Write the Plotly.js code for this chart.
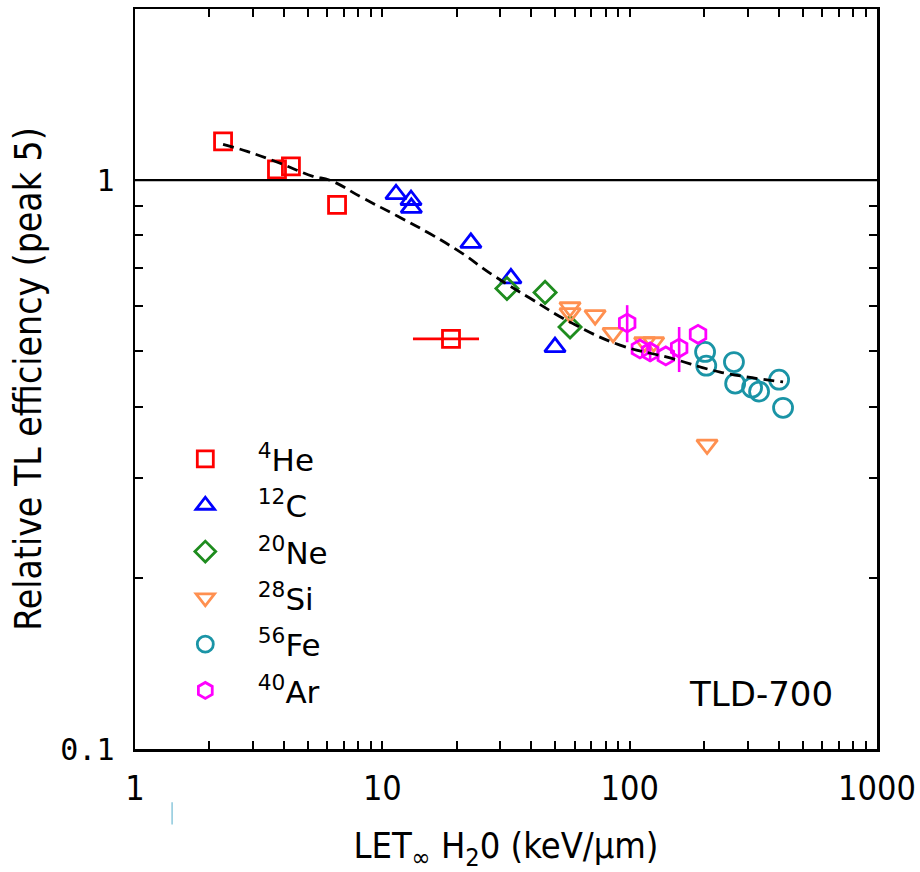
<!DOCTYPE html>
<html>
<head>
<meta charset="utf-8">
<script src="https://cdn.plot.ly/plotly-3.0.1.min.js"></script>
<style>html,body{margin:0;padding:0;background:#fff;}#chart{width:920px;height:872px;}</style>
</head>
<body>
<div id="chart"></div>
<script>
// ---- data ----
const heX = [2.27, 3.75, 4.27, 6.56, 18.95];
const heY = [1.17, 1.045, 1.058, 0.905, 0.526];
const heErrXPlus = [0, 0, 0, 0, 5.65];
const heErrXMinus = [0, 0, 0, 0, 5.65];

const cX = [11.36, 13.06, 13.1, 22.8, 33.1, 49.9];
const cY = [0.945, 0.923, 0.894, 0.776, 0.672, 0.509];

const neX = [31.9, 45.5, 57.4];
const neY = [0.645, 0.635, 0.552];

const siX = [57.4, 57.4, 72.5, 85.7, 115, 125, 205.6];
const siY = [0.598, 0.584, 0.579, 0.539, 0.519, 0.519, 0.343];

const feX = [201.8, 204, 264, 267, 312.6, 333.6, 402, 417];
const feY = [0.499, 0.472, 0.479, 0.439, 0.432, 0.425, 0.446, 0.398];

const arX = [97.7, 110, 121, 140, 158.5, 189];
const arY = [0.561, 0.505, 0.499, 0.491, 0.507, 0.536];
const arErrPlus = [0.042, 0, 0.02, 0, 0.045, 0];
const arErrMinus = [0.042, 0, 0.02, 0, 0.047, 0];

const fitX = [2.27, 2.84, 3.86, 5.24, 6.14, 8.36, 11.5, 15.6, 21.2, 27.3, 39.6, 57.4, 91.4, 145.7, 232, 417];
const fitY = [1.156, 1.124, 1.071, 1.016, 1.0, 0.930, 0.865, 0.805, 0.742, 0.686, 0.620, 0.563, 0.513, 0.487, 0.460, 0.442];

const legendNames = ['<sup>4</sup>He', '<sup>12</sup>C', '<sup>20</sup>Ne', '<sup>28</sup>Si', '<sup>56</sup>Fe', '<sup>40</sup>Ar'];

const xTickVals = [1,2,3,4,5,6,7,8,9,10,20,30,40,50,60,70,80,90,100,200,300,400,500,600,700,800,900,1000];
const xTickText = ['1','','','','','','','','','10','','','','','','','','','100','','','','','','','','','1000'];
const yTickVals = [0.1,0.2,0.3,0.4,0.5,0.6,0.7,0.8,0.9,1,2];
const yTickText = ['0.1','','','','','','','','','1',''];

const annotationText = 'TLD-700';
const xTitle = 'LET<sub>\u221E</sub> H<sub>2</sub>0 (keV/\u00B5m)';
const yTitle = 'Relative TL efficiency (peak 5)';

// ---- traces ----
const mk = (sym, col, size) => ({symbol: sym, size: size, color: col, line: {color: col, width: 2.8}});

const traces = [
  {x: heX, y: heY, name: legendNames[0], legendgroup: 'a', mode: 'markers', type: 'scatter',
   marker: mk('square-open', '#FF0000', 17),
   error_x: {type: 'data', symmetric: false, array: heErrXPlus, arrayminus: heErrXMinus, width: 0, thickness: 2.6, color: '#FF0000'}},
  {x: cX, y: cY, name: legendNames[1], legendgroup: 'b', mode: 'markers', type: 'scatter',
   marker: mk('triangle-up-open', '#0000FF', 18)},
  {x: neX, y: neY, name: legendNames[2], legendgroup: 'c', mode: 'markers', type: 'scatter',
   marker: mk('diamond-open', '#1E8C1E', 17)},
  {x: siX, y: siY, name: legendNames[3], legendgroup: 'd', mode: 'markers', type: 'scatter',
   marker: mk('triangle-down-open', '#FF9050', 18)},
  {x: feX, y: feY, name: legendNames[4], legendgroup: 'e', mode: 'markers', type: 'scatter',
   marker: mk('circle-open', '#1A94A6', 19)},
  {x: arX, y: arY, name: legendNames[5], legendgroup: 'f', mode: 'markers', type: 'scatter',
   marker: mk('hexagon-open', '#FF00FF', 18),
   error_y: {type: 'data', symmetric: false, array: arErrPlus, arrayminus: arErrMinus, width: 0, thickness: 2.6, color: '#FF00FF'}},
  {x: fitX, y: fitY, mode: 'lines', type: 'scatter', showlegend: false, line: {color: '#000', width: 2.8, dash: '11px,6px', shape: 'spline', smoothing: 1.2}}
];

const layout = {
  width: 920, height: 872,
  margin: {l: 135, r: 43, t: 9, b: 123},
  paper_bgcolor: '#fff', plot_bgcolor: '#fff',
  showlegend: true,
  legend: {x: 0.024, y: 0.428, xanchor: 'left', yanchor: 'top', bgcolor: 'rgba(0,0,0,0)',
           font: {family: 'DejaVu Sans, sans-serif', size: 31, color: '#000'},
           tracegroupgap: 3, itemwidth: 95},
  xaxis: {type: 'log', range: [0, 3], tickvals: xTickVals, ticktext: xTickText,
          ticks: 'inside', ticklen: 8, tickwidth: 2, tickcolor: '#000',
          showline: true, linecolor: '#000', linewidth: 2.5, mirror: 'ticks',
          showgrid: false, zeroline: false,
          tickfont: {family: 'DejaVu Sans Condensed, DejaVu Sans, sans-serif', size: 34, color: '#000'},
          ticklabelstandoff: 8,
          title: {text: xTitle, standoff: 30, font: {family: 'DejaVu Sans Condensed, DejaVu Sans, sans-serif', size: 36, color: '#000'}}},
  yaxis: {type: 'log', range: [-1, Math.log10(2)], tickvals: yTickVals, ticktext: yTickText,
          ticks: 'inside', ticklen: 8, tickwidth: 2, tickcolor: '#000',
          showline: true, linecolor: '#000', linewidth: 2.5, mirror: 'ticks',
          showgrid: false, zeroline: false,
          tickfont: {family: 'DejaVu Sans Mono, Liberation Mono, monospace', size: 30, color: '#000'},
          ticklabelstandoff: 12,
          title: {text: yTitle, standoff: 8, font: {family: 'DejaVu Sans Condensed, DejaVu Sans, sans-serif', size: 37, color: '#000'}}},
  shapes: [
    {type: 'line', xref: 'paper', yref: 'y', x0: 0, x1: 1, y0: 1, y1: 1, line: {color: '#000', width: 2.2}},
    {type: 'line', xref: 'paper', yref: 'paper', x0: 0.05, x1: 0.05, y0: -0.072, y1: -0.102, line: {color: '#8CC8DC', width: 1.5}}
  ],
  annotations: [
    {text: annotationText, xref: 'paper', yref: 'paper', x: 0.844, y: 0.075, xanchor: 'center', yanchor: 'middle',
     showarrow: false, font: {family: 'DejaVu Sans, sans-serif', size: 34, color: '#000'}}
  ]
};

Plotly.newPlot('chart', traces, layout, {displayModeBar: false, staticPlot: true});
</script>
</body>
</html>
